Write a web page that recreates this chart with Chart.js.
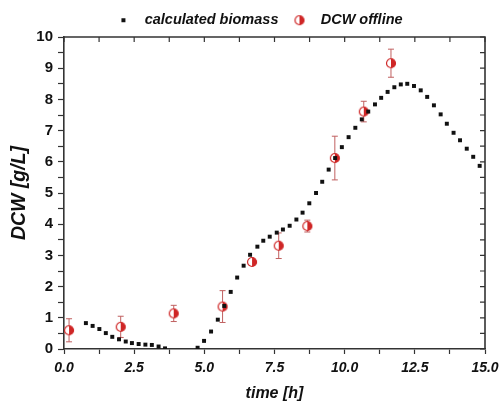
<!DOCTYPE html>
<html>
<head>
<meta charset="utf-8">
<script src="https://cdn.jsdelivr.net/npm/chart.js@4.4.1/dist/chart.umd.min.js"></script>
<style>
  html, body { margin: 0; padding: 0; background: #fff; }
  #chart { display: block; }
</style>
</head>
<body>
<canvas id="chart" width="500" height="401"></canvas>
<script>
// calculated biomass (black squares)
const biomassTime = [0.78, 1.02, 1.26, 1.49, 1.72, 1.96, 2.20, 2.42, 2.66, 2.90, 3.13, 3.37, 3.60,
    4.76, 4.99, 5.24, 5.48, 5.71, 5.94, 6.17, 6.40, 6.63, 6.89, 7.10, 7.33, 7.58, 7.80, 8.04, 8.28,
    8.50, 8.74, 8.98, 9.20, 9.43, 9.66, 9.90, 10.14, 10.38, 10.61, 10.84, 11.08, 11.30, 11.53, 11.77,
    12.00, 12.23, 12.47, 12.71, 12.94, 13.18, 13.42, 13.64, 13.88, 14.11, 14.35, 14.58, 14.81];
const biomassValue = [0.83, 0.74, 0.64, 0.51, 0.39, 0.31, 0.24, 0.19, 0.16, 0.14, 0.13, 0.08, 0.02,
    0.04, 0.26, 0.56, 0.94, 1.38, 1.83, 2.29, 2.67, 3.02, 3.28, 3.47, 3.60, 3.73, 3.83, 3.95, 4.15,
    4.37, 4.67, 5.00, 5.36, 5.75, 6.12, 6.47, 6.79, 7.09, 7.36, 7.61, 7.84, 8.05, 8.24, 8.39,
    8.48, 8.50, 8.43, 8.29, 8.08, 7.81, 7.52, 7.22, 6.93, 6.69, 6.42, 6.16, 5.87];

// DCW offline (red half circles) with error
const dcwTime = [0.18, 2.02, 3.91, 5.65, 6.70, 7.65, 8.67, 9.65, 10.68, 11.65];
const dcwValue = [0.60, 0.71, 1.14, 1.36, 2.79, 3.31, 3.94, 6.12, 7.61, 9.16];
const dcwError = [0.37, 0.34, 0.26, 0.51, 0.05, 0.41, 0.19, 0.70, 0.33, 0.45];

const xLabels = ['0.0', '2.5', '5.0', '7.5', '10.0', '12.5', '15.0'];

const RED = '#cf2626';
const AXIS = '#333';

function halfCircle(){
    const c = document.createElement('canvas');
    c.width = 12; c.height = 12;
    const g = c.getContext('2d');
    const r = 4.5;
    g.beginPath();
    g.arc(6, 6, r, 0, Math.PI * 2);
    g.fillStyle = '#fff';
    g.fill();
    g.beginPath();
    g.moveTo(6, 6 - r);
    g.arc(6, 6, r, -Math.PI / 2, Math.PI / 2);
    g.closePath();
    g.fillStyle = RED;
    g.fill();
    g.beginPath();
    g.arc(6, 6, r, 0, Math.PI * 2);
    g.strokeStyle = RED;
    g.lineWidth = 1.2;
    g.stroke();
    return c;
}

function smallSquare(){
    const c = document.createElement('canvas');
    c.width = 6; c.height = 6;
    const g = c.getContext('2d');
    g.fillStyle = '#111';
    g.fillRect(1, 1, 4, 4);
    return c;
}

const dcwMarker = halfCircle();
const legendSquare = smallSquare();

const errorBars = {
    id: 'errorBars',
    beforeDatasetsDraw(chart){
        const ctx = chart.ctx;
        const xs = chart.scales.x, ys = chart.scales.y;
        ctx.save();
        ctx.strokeStyle = '#c06060';
        ctx.lineWidth = 1;
        dcwTime.forEach(function(t, i){
            const px = xs.getPixelForValue(t);
            const top = ys.getPixelForValue(dcwValue[i] + dcwError[i]);
            const bot = ys.getPixelForValue(dcwValue[i] - dcwError[i]);
            ctx.beginPath();
            ctx.moveTo(px, top); ctx.lineTo(px, bot);
            ctx.moveTo(px - 3, top); ctx.lineTo(px + 3, top);
            ctx.moveTo(px - 3, bot); ctx.lineTo(px + 3, bot);
            ctx.stroke();
        });
        ctx.restore();
    }
};

// mirror axes on top and right with inward ticks
const frame = {
    id: 'frame',
    afterDraw(chart){
        const ctx = chart.ctx;
        const a = chart.chartArea;
        const xs = chart.scales.x, ys = chart.scales.y;
        ctx.save();
        ctx.strokeStyle = AXIS;
        ctx.lineWidth = 1.6;
        ctx.beginPath();
        ctx.moveTo(a.left, a.top); ctx.lineTo(a.right, a.top); ctx.lineTo(a.right, a.bottom);
        ctx.stroke();
        ctx.lineWidth = 1.2;
        ctx.beginPath();
        xs.ticks.forEach(function(tk){
            const px = xs.getPixelForValue(tk.value);
            ctx.moveTo(px, a.top); ctx.lineTo(px, a.top + 5);
        });
        ys.ticks.forEach(function(tk){
            const py = ys.getPixelForValue(tk.value);
            ctx.moveTo(a.right, py); ctx.lineTo(a.right - 5, py);
        });
        ctx.stroke();
        ctx.restore();
    }
};

// legend box height fixed, and nudged right a little
const legendTweak = {
    id: 'legendTweak',
    beforeInit(chart){
        const legend = chart.legend;
        const fit = legend.fit;
        legend.fit = function(){
            fit.call(this);
            this.height = 31;
        };
    },
    afterUpdate(chart){
        chart.legend.left += 13.5;
        chart.legend.right += 13.5;
    }
};

const ctx = document.getElementById('chart').getContext('2d');
const chart = new Chart(ctx, {
    type: 'scatter',
    data: {
        datasets: [{
            label: 'calculated biomass',
            data: biomassTime.map(function(t, i){ return {x: t, y: biomassValue[i]}; }),
            pointStyle: 'rect',
            pointRadius: 2.8,
            backgroundColor: '#111',
            borderColor: '#111',
            borderWidth: 0
        }, {
            label: 'DCW offline',
            data: dcwTime.map(function(t, i){ return {x: t, y: dcwValue[i]}; }),
            pointStyle: dcwMarker,
            pointRadius: 5,
            backgroundColor: RED,
            borderColor: RED
        }]
    },
    options: {
        responsive: false,
        animation: false,
        layout: { padding: { left: 0, right: 15, top: 6, bottom: 0 } },
        plugins: {
            tooltip: { enabled: false },
            legend: {
                position: 'top',
                labels: {
                    usePointStyle: true,
                    boxHeight: 6,
                    pointStyleWidth: 28,
                    padding: 7,
                    color: '#111',
                    font: { family: 'Liberation Sans', size: 14.5, weight: 'bold', style: 'italic' },
                    generateLabels: function(chart){
                        const items = Chart.defaults.plugins.legend.labels.generateLabels(chart);
                        items[0].pointStyle = legendSquare;
                        items[1].pointStyle = dcwMarker;
                        return items;
                    }
                }
            }
        },
        scales: {
            x: {
                type: 'linear',
                min: 0, max: 15,
                border: { color: AXIS, width: 1.6 },
                grid: { drawOnChartArea: false, drawTicks: true, tickLength: 5, tickColor: AXIS, tickWidth: 1.2 },
                ticks: {
                    stepSize: 1.25,
                    autoSkip: false,
                    maxRotation: 0,
                    padding: 6,
                    color: '#111',
                    font: { family: 'Liberation Sans', size: 14, weight: 'bold', style: 'italic' },
                    callback: function(v){
                        const i = Math.round(v / 2.5);
                        return Math.abs(v - i * 2.5) < 1e-6 ? xLabels[i] : '';
                    }
                },
                title: {
                    display: true, text: 'time [h]', color: '#111',
                    font: { family: 'Liberation Sans', size: 16, weight: 'bold', style: 'italic' },
                    padding: { top: 2, bottom: -2 }
                },
                afterFit: function(scale){
                    scale.height = 52;
                    scale.paddingRight = 5;
                }
            },
            y: {
                min: 0, max: 10,
                border: { color: AXIS, width: 1.6 },
                grid: { drawOnChartArea: false, drawTicks: true, tickLength: 6, tickColor: AXIS, tickWidth: 1.2 },
                ticks: {
                    stepSize: 0.5,
                    autoSkip: false,
                    padding: 5,
                    color: '#111',
                    font: { family: 'Liberation Sans', size: 15, weight: 'bold' },
                    callback: function(v){ return Number.isInteger(v) ? String(v) : ''; }
                },
                title: {
                    display: true, text: 'DCW [g/L]', color: '#111',
                    font: { family: 'Liberation Sans', size: 19.5, weight: 'bold', style: 'italic' },
                    padding: { top: 8, bottom: 6 }
                },
                afterFit: function(scale){ scale.width = 64; }
            }
        }
    },
    plugins: [errorBars, frame, legendTweak]
});
</script>
</body>
</html>
